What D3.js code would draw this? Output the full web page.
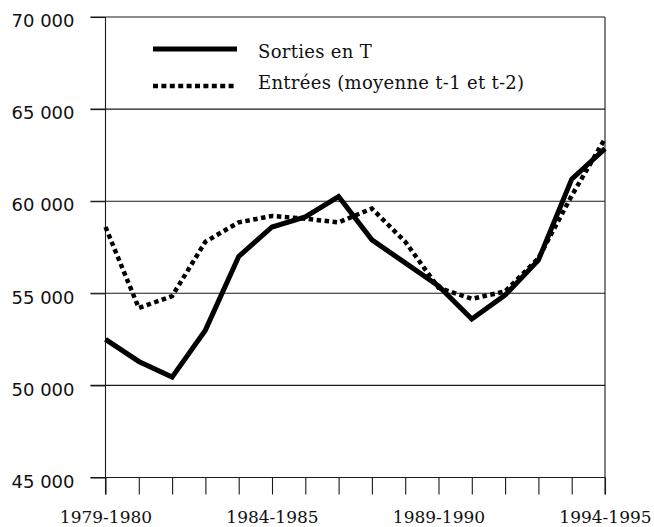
<!DOCTYPE html>
<html><head><meta charset="utf-8">
<script src="https://cdn.jsdelivr.net/npm/d3@7"></script>
<style>body{margin:0;background:#fff}svg{display:block}</style>
</head><body><svg id="c" width="654" height="527"></svg>
<script>
const categories = ["1979-1980","1980-1981","1981-1982","1982-1983","1983-1984","1984-1985","1985-1986","1986-1987","1987-1988","1988-1989","1989-1990","1990-1991","1991-1992","1992-1993","1993-1994","1994-1995"];
const sorties = [52500, 51300, 50450, 53000, 57000, 58600, 59150, 60250, 57900, 56650, 55400, 53600, 54900, 56800, 61200, 62850];
const entrees = [58600, 54200, 54850, 57800, 58850, 59200, 59050, 58850, 59600, 57800, 55300, 54700, 55100, 56900, 60300, 63400];
const yTicks = [45000, 50000, 55000, 60000, 65000, 70000];
const seriesNames = ["Sorties en T", "Entrées (moyenne t-1 et t-2)"];

const svg = d3.select("#c");
const mLeft = 105.5, mRight = 605, mTop = 17, mBottom = 477.5;
const x = d3.scalePoint().domain(categories).range([mLeft, mRight]);
const y = d3.scaleLinear().domain([45000, 70000]).range([mBottom, mTop]);
const fmt = d3.formatLocale({decimal: ",", thousands: " ", grouping: [3], currency: ["", "€"]}).format(",d");

// gridlines
svg.append("g").selectAll("line").data(yTicks).join("line")
  .attr("x1", mLeft - 15).attr("x2", mRight)
  .attr("y1", d => y(d)).attr("y2", d => y(d))
  .attr("stroke", "#1a1a1a").attr("stroke-width", 1.1);
// right border
svg.append("line").attr("x1", mRight).attr("x2", mRight).attr("y1", y(70000)).attr("y2", mBottom + 17)
  .attr("stroke", "#1a1a1a").attr("stroke-width", 1.1);

// y axis
const yAxis = svg.append("g").attr("transform", `translate(${mLeft},0)`)
  .call(d3.axisLeft(y).tickValues(yTicks).tickFormat(fmt).tickSize(15).tickPadding(16));
yAxis.select(".domain").remove();
yAxis.selectAll("line").attr("stroke", "#1a1a1a").attr("stroke-width", 1.1);
yAxis.selectAll("text").attr("font-family", "DejaVu Sans").attr("font-size", 18).attr("fill", "#111").attr("y", 4);
svg.append("line").attr("x1", mLeft).attr("x2", mLeft).attr("y1", mTop).attr("y2", mBottom + 17)
  .attr("stroke", "#1a1a1a").attr("stroke-width", 1.1);

// x axis
const xAxis = svg.append("g").attr("transform", `translate(0,${mBottom})`)
  .call(d3.axisBottom(x).tickSize(17).tickPadding(16).tickFormat((d, i) => i % 5 === 0 ? d : ""));
xAxis.select(".domain").remove();
xAxis.selectAll("line").attr("stroke", "#1a1a1a").attr("stroke-width", 1.1);
xAxis.selectAll("text").attr("font-family", "DejaVu Serif").attr("font-size", 17).attr("fill", "#111");

const line = d3.line().x((d, i) => x(categories[i])).y(d => y(d));
svg.append("path").datum(entrees).attr("d", line).attr("fill", "none")
  .attr("stroke", "#000").attr("stroke-width", 4.5).attr("stroke-dasharray", "4.5,3.5");
svg.append("path").datum(sorties).attr("d", line).attr("fill", "none")
  .attr("stroke", "#000").attr("stroke-width", 5).attr("stroke-linejoin", "miter");

// legend
const lg = svg.append("g");
lg.append("line").attr("x1", 153).attr("x2", 237).attr("y1", 49).attr("y2", 49)
  .attr("stroke", "#000").attr("stroke-width", 5);
lg.append("line").attr("x1", 153).attr("x2", 237).attr("y1", 86).attr("y2", 86)
  .attr("stroke", "#000").attr("stroke-width", 4.5).attr("stroke-dasharray", "5,3.4");
lg.selectAll("text").data(seriesNames).join("text")
  .attr("x", 258).attr("y", (d, i) => i === 0 ? 58 : 88.5)
  .attr("font-family", "DejaVu Serif").attr("font-size", 18).attr("letter-spacing", 0.3).attr("fill", "#111")
  .text(d => d);
</script></body></html>
